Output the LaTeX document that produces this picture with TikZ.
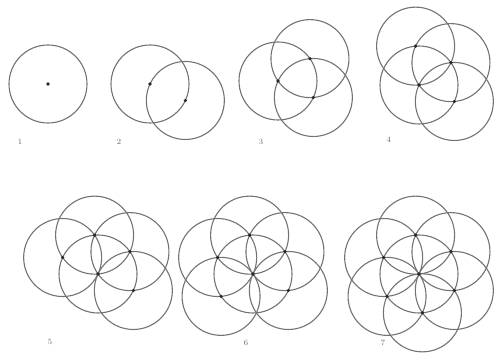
\documentclass[tikz,border=0pt]{standalone}
\tikzset{
  petal/.style={draw=black!55, line width=1.1pt},
  hub/.style={fill=black!85},
  steptag/.style={font=\fontsize{8}{9}\selectfont, text=black!60}
}
\begin{document}
\begin{tikzpicture}[x=1pt, y=1pt]
    \useasboundingbox (0,0) rectangle (494,353);

    % first circle of every step
    \coordinate (c1) at (48,269);
    \coordinate (c2) at (150,269);
    \coordinate (c3) at (278,272);
    \coordinate (c4) at (419,268);
    \coordinate (c5) at (98,79);
    \coordinate (c6) at (253,79);
    \coordinate (c7) at (419,79);

    % circles
    \foreach \n in {1,...,7} {
        \draw[petal] (c\n) circle (39);
        \foreach \k in {1,...,6} {
            \ifnum\k<\n
                \draw[petal] (c\n) ++({60*\k-85}:39) circle (39);
            \fi
        }
    }

    % centre marks
    \foreach \n in {1,...,7} {
        \fill[hub] (c\n) circle (1.8);
        \foreach \k in {1,...,6} {
            \ifnum\k<\n
                \fill[hub] (c\n) ++({60*\k-85}:39) circle (1.8);
            \fi
        }
    }

    \node[steptag] (t1) at (20,211) {1};
    \node[steptag] (t2) at (119,211) {2};
    \node[steptag] (t3) at (261,211) {3};
    \node[steptag] (t4) at (389,213) {4};
    \node[steptag] (t5) at (50,11) {5};
    \node[steptag] (t6) at (246,10) {6};
    \node[steptag] (t7) at (383,10) {7};
\end{tikzpicture}
\end{document}
